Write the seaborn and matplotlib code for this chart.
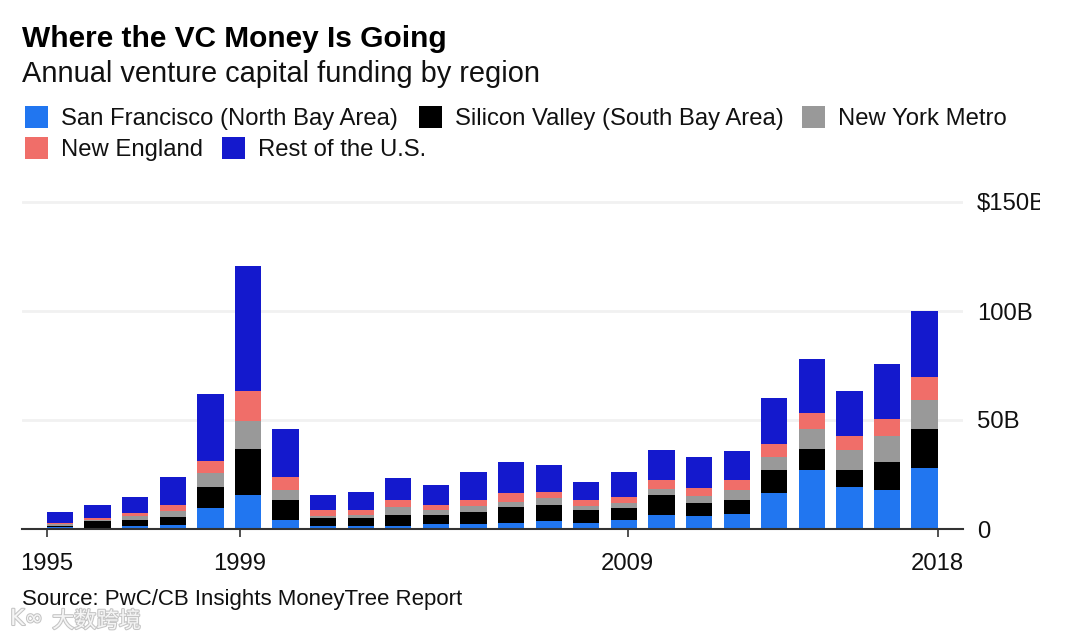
import numpy as np
import matplotlib
matplotlib.use("Agg")
from matplotlib import pyplot as plt
from matplotlib.patches import Rectangle
import matplotlib.patheffects as pe
import seaborn as sns

# values in $B, bottom to top of each stack
san_francisco = [0.8,0.5,1.4,2.0,9.7,15.6,4.3,1.4,1.3,1.2,2.2,2.2,2.8,3.5,2.8,4.3,6.6,6.0,6.7,16.5,26.9,19.4,18.0,27.8]
silicon_valley = [0.4,3.0,2.7,3.7,9.6,21.2,9.0,3.6,3.7,5.3,4.3,5.6,7.5,7.6,6.0,5.2,8.9,5.9,6.6,10.4,9.8,7.5,12.6,17.9]
new_york = [1.1,0.6,1.7,2.4,6.3,12.7,4.6,1.1,1.5,3.5,2.3,2.7,2.0,2.9,1.7,2.3,3.0,3.1,4.6,6.1,9.0,9.2,12.1,13.5]
new_england = [0.6,1.0,1.4,2.9,5.8,13.7,5.9,2.6,2.3,3.2,2.3,2.9,4.0,2.9,2.9,3.1,4.0,3.7,4.4,6.0,7.7,6.7,7.6,10.7]
rest_us = [5.1,5.9,7.5,12.9,30.3,57.5,22.1,6.9,8.4,10.0,9.2,12.9,14.5,12.3,8.3,11.4,13.7,14.3,13.6,21.1,24.7,20.3,25.5,30.1]

series = [san_francisco, silicon_valley, new_york, new_england, rest_us]
names = ["San Francisco (North Bay Area)", "Silicon Valley (South Bay Area)", "New York Metro", "New England", "Rest of the U.S."]
colors = ["#2176f0", "#000000", "#999999", "#f06e69", "#1419cd"]

y_ticks = [0, 50, 100, 150]
y_labels = ["0", "50B", "100B", "$150B"]
x_ticks = [-0.35, 4.79, 15.1, 23.35]
x_labels = ["1995", "1999", "2009", "2018"]

W, H = 1080, 641
FONT = "Liberation Sans"

sns.set_theme(style="white")
plt.rcParams["font.family"] = [FONT, "DejaVu Sans"]

fig = plt.figure(figsize=(W / 100, H / 100), dpi=100)
# axes box in pixels: baseline y=529, $150B gridline y=202
top = 529 - 152 * 2.18
ax = fig.add_axes([22 / W, 1 - 529 / H, (963 - 22) / W, (529 - top) / H])

pos = np.arange(len(san_francisco))
bottom = np.zeros(len(pos))
for vals, col in zip(series, colors):
    sns.barplot(x=pos, y=vals, bottom=bottom, color=col, saturation=1, width=0.7,
                errorbar=None, native_scale=True, ax=ax, zorder=3, linewidth=0)
    bottom = bottom + np.asarray(vals)

ax.set_xlim(-1.01, 24.02)
ax.set_ylim(0, 152)
ax.set(xlabel="", ylabel="")
ax.yaxis.tick_right()
ax.set_yticks(y_ticks, y_labels, fontsize=17.2, color="#111111")
ax.set_xticks(x_ticks, x_labels, fontsize=17.2, color="#111111")
ax.tick_params(axis="y", length=0, pad=10)
ax.tick_params(axis="x", length=6, width=1.2, color="#333333", pad=11.5, bottom=True)
for t in ax.get_yticklabels():
    t.set_verticalalignment("center_baseline")
ax.grid(axis="y", color="#f1f1f1", linewidth=2, zorder=0)
ax.set_axisbelow(True)
sns.despine(ax=ax, left=True, right=True, top=True)
ax.spines["bottom"].set_color("#333333")
ax.spines["bottom"].set_linewidth(1.5)
ax.spines["bottom"].set_zorder(5)

def label(x, y, s, **kw):
    kw.setdefault("fontsize", 17.2)
    kw.setdefault("color", "#111111")
    fig.text(x / W, 1 - y / H, s, va="baseline", ha="left", **kw)

label(22, 47, "Where the VC Money Is Going", fontsize=21.5, fontweight="bold", color="#000000")
label(22, 82, "Annual venture capital funding by region", fontsize=20.9)

# legend rows, swatch left edges and text baselines in pixels
legend_x = [(25, 61, 125), (419, 455, 125), (802, 838, 125), (25, 61, 156), (222, 258, 156)]
for (sx, tx, ly), name, col in zip(legend_x, names, colors):
    fig.add_artist(Rectangle((sx / W, 1 - (ly + 3) / H), 23 / W, 22 / H, color=col, lw=0,
                             transform=fig.transFigure))
    label(tx, ly, name)

label(22, 605, "Source: PwC/CB Insights MoneyTree Report", fontsize=16)

# the right edge of the source image is cut off past x=1040
fig.add_artist(Rectangle((1040 / W, 0), 40 / W, 1, color="white", lw=0, zorder=20,
                         transform=fig.transFigure))

# faint watermark
halo = [pe.withStroke(linewidth=1.5, foreground="#c4c4c4")]
fig.text(52 / W, 1 - 621 / H, "大数跨境", fontsize=16, color="#f5f5f5", va="center",
         family=["Noto Sans CJK SC", "DejaVu Sans"], path_effects=halo)
fig.text(10 / W, 1 - 619 / H, "K∞", fontsize=16, color="#f5f5f5", va="center",
         family=["DejaVu Sans"], path_effects=halo)

fig.savefig("out.png", dpi=100)
